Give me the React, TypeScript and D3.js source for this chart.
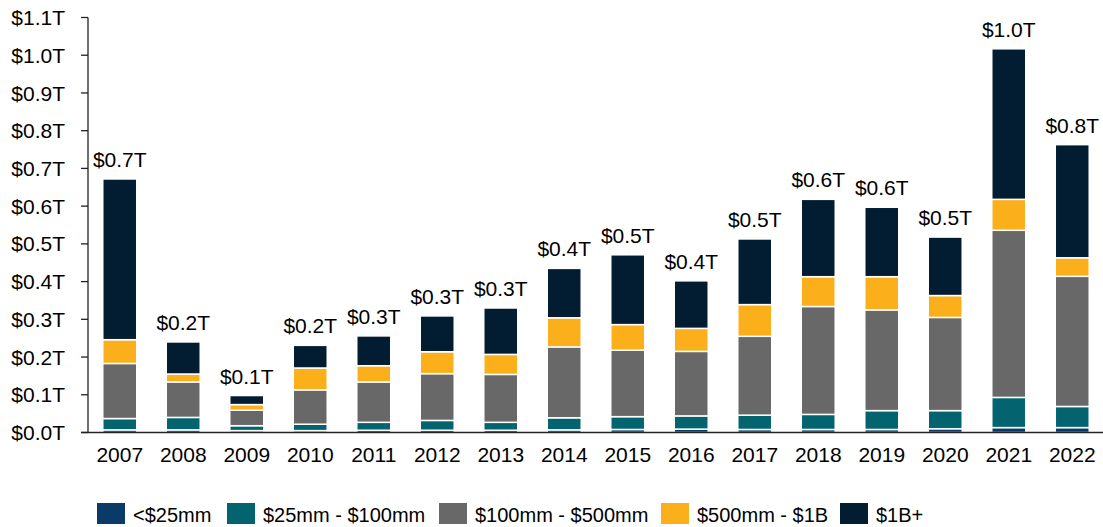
import React from "react";
import * as d3 from "d3";

// Deal value by size bucket, $ trillions
const years = [
  "2007", "2008", "2009", "2010", "2011", "2012", "2013", "2014",
  "2015", "2016", "2017", "2018", "2019", "2020", "2021", "2022",
];
const seriesNames = ["<$25mm", "$25mm - $100mm", "$100mm - $500mm", "$500mm - $1B", "$1B+"];
const under25 = [0.007, 0.007, 0.005, 0.005, 0.006, 0.006, 0.006, 0.007, 0.008, 0.009, 0.008, 0.008, 0.008, 0.01, 0.013, 0.013];
const from25to100 = [0.03, 0.033, 0.013, 0.017, 0.021, 0.026, 0.021, 0.032, 0.034, 0.035, 0.038, 0.04, 0.05, 0.048, 0.08, 0.056];
const from100to500 = [0.146, 0.094, 0.041, 0.091, 0.107, 0.124, 0.127, 0.188, 0.176, 0.171, 0.209, 0.286, 0.267, 0.247, 0.443, 0.345];
const from500to1B = [0.063, 0.021, 0.015, 0.058, 0.043, 0.058, 0.053, 0.077, 0.068, 0.061, 0.084, 0.079, 0.088, 0.058, 0.082, 0.049];
const over1B = [0.426, 0.085, 0.024, 0.06, 0.079, 0.095, 0.123, 0.131, 0.185, 0.126, 0.174, 0.205, 0.184, 0.155, 0.399, 0.3];
const yTicks = [0, 0.1, 0.2, 0.3, 0.4, 0.5, 0.6, 0.7, 0.8, 0.9, 1.0, 1.1];
const colors = ["#0b3a68", "#03646f", "#686868", "#faaf1b", "#021c31"];

const W = 1103;
const H = 527;
const FONT = "'Liberation Sans', Arial, sans-serif";

export default function App() {
  const seriesValues = [under25, from25to100, from100to500, from500to1B, over1B];
  const rows = years.map((year, i) => {
    const row: Record<string, any> = { year };
    seriesNames.forEach((s, k) => (row[s] = seriesValues[k][i]));
    return row;
  });
  const stacked = d3.stack().keys(seriesNames)(rows as any);

  const x = d3.scaleBand().domain(years).range([88, 1104]).paddingInner(0.465).paddingOuter(0.2325);
  const y = d3.scaleLinear().domain([0, 1.1]).range([432.5, 17.5]);
  const fmt = (v: number) => `$${d3.format(".1f")(v)}T`;

  const legendX = [97, 227, 439, 661, 840];

  return (
    <svg
      width={W}
      height={H}
      style={{ position: "absolute", left: 0, top: 0, display: "block", background: "#fff" }}
      fontFamily={FONT}
    >
      {/* stacked bars */}
      {stacked.map((layer, k) => (
        <g key={seriesNames[k]} fill={colors[k]}>
          {layer.map((d, i) => (
            <rect
              key={years[i]}
              x={x(years[i])}
              y={y(d[1])}
              width={x.bandwidth()}
              height={Math.max(0, y(d[0]) - y(d[1]))}
              stroke="#fff"
              strokeWidth={1.5}
            />
          ))}
        </g>
      ))}

      {/* total labels */}
      {years.map((yr, i) => {
        const total = d3.sum(seriesValues, (s) => s[i]);
        return (
          <text
            key={yr}
            x={(x(yr) as number) + x.bandwidth() / 2}
            y={y(total) - 12}
            textAnchor="middle"
            fontSize={21}
            fill="#000"
          >
            {fmt(total)}
          </text>
        );
      })}

      {/* y axis */}
      <line x1={88} x2={88} y1={y(1.1)} y2={y(0)} stroke="#222" strokeWidth={1.3} />
      {yTicks.map((t) => (
        <g key={t} transform={`translate(0,${y(t)})`}>
          <line x1={81} x2={88} stroke="#222" strokeWidth={1.3} />
          <text x={65} dy="0.36em" textAnchor="end" fontSize={21} fill="#000">
            {fmt(t)}
          </text>
        </g>
      ))}

      {/* x axis */}
      <line x1={81} x2={1104} y1={y(0)} y2={y(0)} stroke="#222" strokeWidth={1.3} />
      {years.map((yr) => (
        <text
          key={yr}
          x={(x(yr) as number) + x.bandwidth() / 2}
          y={461.5}
          textAnchor="middle"
          fontSize={21}
          fill="#000"
        >
          {yr}
        </text>
      ))}

      {/* legend */}
      {seriesNames.map((s, k) => (
        <g key={s} transform={`translate(${legendX[k]},503)`}>
          <rect width={28} height={21} fill={colors[k]} />
          <text x={36} y={18.5} fontSize={20} fill="#000">
            {s}
          </text>
        </g>
      ))}
    </svg>
  );
}
